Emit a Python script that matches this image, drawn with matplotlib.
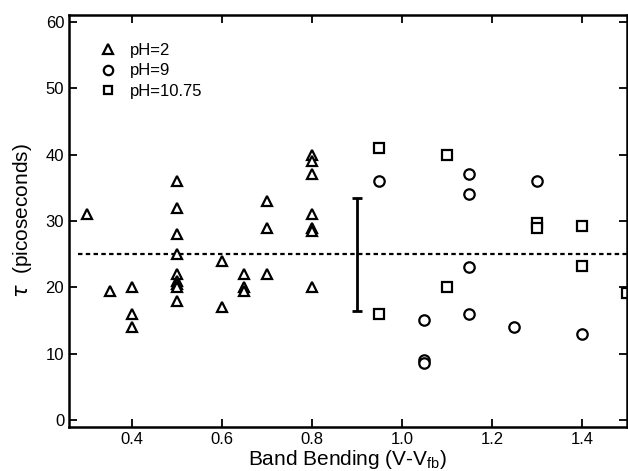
import numpy as np
import matplotlib
matplotlib.use('Agg')
import matplotlib.pyplot as plot

# pH = 2 (triangles)
ph2_x = [0.30, 0.35, 0.40, 0.40, 0.40,
         0.50, 0.50, 0.50, 0.50, 0.50, 0.50, 0.50, 0.50, 0.50,
         0.60, 0.60, 0.65, 0.65, 0.65, 0.70, 0.70, 0.70,
         0.80, 0.80, 0.80, 0.80, 0.80, 0.80, 0.80]
ph2_y = [31.0, 19.4, 20.0, 16.0, 14.0,
         36.0, 32.0, 28.0, 25.0, 22.0, 21.0, 20.5, 20.0, 18.0,
         24.0, 17.0, 22.0, 20.0, 19.5, 33.0, 29.0, 22.0,
         40.0, 39.0, 37.0, 31.0, 29.0, 28.5, 20.0]

# pH = 9 (circles)
ph9_x = [0.95, 1.05, 1.05, 1.05, 1.15, 1.15, 1.15, 1.15, 1.25, 1.30, 1.40]
ph9_y = [36.0, 15.0, 9.0, 8.6, 37.0, 34.0, 23.0, 16.0, 14.0, 36.0, 13.0]

# pH = 10.75 (squares)
ph1075_x = [0.95, 0.95, 1.10, 1.10, 1.30, 1.30, 1.40, 1.40, 1.50]
ph1075_y = [41.0, 16.0, 40.0, 20.0, 29.7, 29.0, 29.2, 23.2, 19.1]

mean_tau = 25.0
err_x = 0.90
err_lo, err_hi = 16.5, 33.4

x_ticks = [0.4, 0.6, 0.8, 1.0, 1.2, 1.4]
y_ticks = [0, 10, 20, 30, 40, 50, 60]

plot.rcParams['font.family'] = ['Liberation Sans', 'DejaVu Sans']

fig = plot.figure(figsize=(6.28, 4.71), dpi=100)
ax = fig.add_axes([0.110, 0.094, 0.888, 0.874])

mk = dict(linestyle='none', markerfacecolor='white', markeredgecolor='black',
          markeredgewidth=1.6, color='black')
ax.plot(ph2_x, ph2_y, marker='^', markersize=7.5, label='pH=2', **mk)
ax.plot(ph9_x, ph9_y, marker='o', markersize=7.5, label='pH=9', **mk)
ax.plot(ph1075_x, ph1075_y, marker='s', markersize=7, label='pH=10.75', **mk)

ax.plot([0.28, 1.5], [mean_tau, mean_tau], color='black', linewidth=1.6,
        linestyle=(0, (2.0, 1.5)), zorder=1)

ax.errorbar([err_x], [(err_lo + err_hi) / 2], yerr=[(err_hi - err_lo) / 2],
            fmt='none', ecolor='black', elinewidth=2, capsize=3.5, capthick=2)

ax.set_xlim(0.26, 1.5)
ax.set_ylim(-1, 61)
ax.set_xticks(x_ticks)
ax.set_xticklabels(['%.1f' % v for v in x_ticks])
ax.set_yticks(y_ticks)

ax.tick_params(direction='in', length=6, width=1.3, top=True, right=True,
               labelsize=12)
for s in ax.spines.values():
    s.set_linewidth(1.8)

ax.set_xlabel(r'Band Bending (V-V$_{\mathregular{fb}}$)', fontsize=15, labelpad=1)
ax.set_ylabel(r'$\tau$  (picoseconds)', fontsize=15, labelpad=8)

ax.legend(loc='upper left', frameon=False, fontsize=12, handlelength=1.0,
          handletextpad=0.8, borderaxespad=0, labelspacing=0.32,
          markerscale=0.9, bbox_to_anchor=(0.043, 0.948))

fig.savefig('out.png', dpi=100)
